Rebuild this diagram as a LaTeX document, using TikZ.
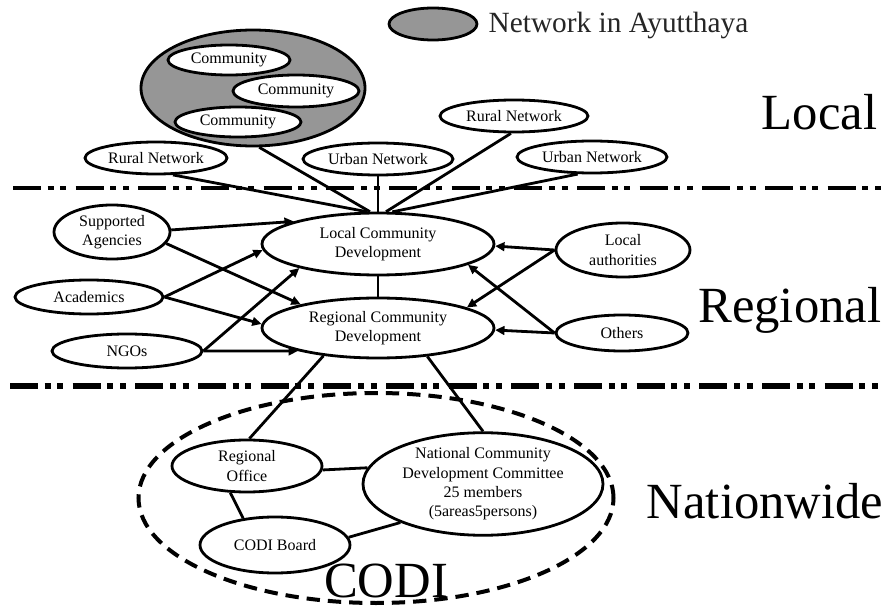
\documentclass[tikz,border=0pt]{standalone}
\usepackage{fontspec}
\setmainfont{Liberation Serif}
\usetikzlibrary{shapes.geometric,arrows.meta}
\definecolor{netgray}{RGB}{150,150,150}
\begin{document}
\begin{tikzpicture}[x=0.75pt,y=-0.75pt,
  el/.style 2 args={ellipse,draw,line width=2.1pt,fill=white,inner sep=0pt,
    minimum width=#1*0.75pt,minimum height=#2*0.75pt,align=center,
    font=\fontsize{12}{14.5}\selectfont},
  conn/.style={line width=2.1pt},
  arr/.style={line width=2.1pt,-{Triangle[length=7pt,width=6.5pt]}},
  sep/.style={dash pattern=on 21pt off 5pt on 4.5pt off 5pt on 4.5pt off 7pt},
  biglabel/.style={font=\fontsize{38}{40}\selectfont}
]
\fill[white] (0,0) rectangle (894,610);
\useasboundingbox (0,0) rectangle (894,610);

% separators
\draw[sep,line width=3pt] (13,188) -- (885,188);
\draw[sep,line width=4.5pt] (10,386) -- (880,386);

% CODI dashed ellipse
\node[ellipse,draw,line width=3pt,dash pattern=on 10pt off 6pt,inner sep=0pt,
  minimum width=475*0.75pt,minimum height=210*0.75pt] (codi) at (376,498) {};

% legend
\node[el={88}{32},fill=netgray] (leg) at (433,24) {};
\node[anchor=west,font=\fontsize{22}{24}\selectfont,text=black!85] (legt) at (484,25) {Network in Ayutthaya};

% level labels
\node[biglabel,anchor=base east] (lloc) at (882,130) {Local};
\node[biglabel,anchor=base east] (lreg) at (886,322) {Regional};
\node[biglabel,anchor=base east] (lnat) at (888,518) {Nationwide};
\node[biglabel,anchor=base] (lcodi) at (386,597) {CODI};

% network in Ayutthaya
\node[el={224}{116},fill=netgray] (net) at (253,88) {};
\node[el={122}{30}] (c1) at (229,60) {Community};
\node[el={126}{32}] (c2) at (296,91) {Community};
\node[el={126}{30}] (c3) at (238,122) {Community};

% local networks
\node[el={142}{32}] (rn1) at (156,158) {Rural Network};
\node[el={150}{32}] (un1) at (378,159) {Urban Network};
\node[el={148}{32}] (rn2) at (514,116) {Rural Network};
\node[el={150}{32}] (un2) at (592,157) {Urban Network};

% regional
\node[el={232}{62}] (lcd) at (378,244) {Local Community\\Development};
\node[el={232}{60}] (rcd) at (378,328) {Regional Community\\Development};
\node[el={116}{54}] (sa) at (112,232) {Supported\\Agencies};
\node[el={148}{34}] (ac) at (89,297) {Academics};
\node[el={150}{34}] (ngo) at (127,351) {NGOs};
\node[el={134}{54}] (la) at (623,250) {Local\\authorities};
\node[el={132}{36}] (oth) at (622,333) {Others};

% nationwide
\node[el={150}{52}] (ro) at (247,466) {Regional\\Office};
\node[el={240}{102}] (nat) at (483,484) {National Community\\Development Committee\\25 members\\(5areas5persons)};
\node[el={150}{56}] (cb) at (275,545) {CODI Board};

% connectors to local community development
\draw[conn] (net.-84) -- (lcd.104);
\draw[conn] (rn1.-45) -- (lcd.109);
\draw[conn] (un1.south) -- (lcd.north);
\draw[conn] (rn2.-100) -- (lcd.76);
\draw[conn] (un2.-130) -- (lcd.66);

% arrows
\draw[arr] (sa.2) -- (lcd.165);
\draw[arr] (sa.-12) -- (rcd.163);
\draw[arr] (ac.east) -- (lcd.183);
\draw[arr] (ac.east) -- (rcd.178);
\draw[arr] (ngo.east) -- (lcd.197);
\draw[arr] (ngo.east) -- (rcd.196);
\draw[arr] (la.west) -- (lcd.-1);
\draw[arr] (la.west) -- (rcd.13);
\draw[arr] (oth.west) -- (lcd.-13);
\draw[arr] (oth.west) -- (rcd.-1);

% other links
\draw[conn] (lcd.south) -- (rcd.north);
\draw[conn] (rcd.-153) -- (ro.85);
\draw[conn] (rcd.-30) -- (nat.north);
\draw[conn] (ro.-3) -- (nat.172);
\draw[conn] (ro.238) -- (cb.140);
\draw[conn] (cb.6) -- (nat.205);
\end{tikzpicture}
\end{document}
